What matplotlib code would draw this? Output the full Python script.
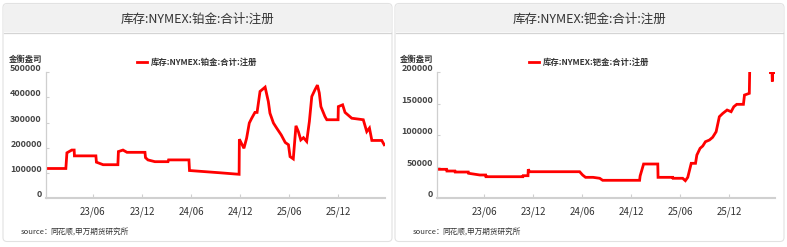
import matplotlib
matplotlib.use('Agg')
import matplotlib.pyplot as plt
import matplotlib.dates as mdates
import pandas as pd
from matplotlib.patches import FancyBboxPatch, Rectangle
from matplotlib.transforms import Affine2D, ScaledTranslation
from matplotlib.lines import Line2D

plt.rcParams['font.family'] = ['Noto Sans CJK SC', 'DejaVu Sans']

# ---- data ----
pt_title = '库存:NYMEX:铂金:合计:注册'
pt_dates = ['2022-12-08', '2023-02-20', '2023-02-24', '2023-03-14', '2023-03-23', '2023-03-24',
            '2023-06-12', '2023-06-14', '2023-07-09', '2023-09-02', '2023-09-04', '2023-09-21',
            '2023-10-06', '2023-12-12', '2023-12-14', '2023-12-23', '2024-01-18', '2024-03-07',
            '2024-03-09', '2024-05-24', '2024-05-26', '2024-09-17', '2024-11-27', '2024-11-28',
            '2024-12-15', '2024-12-25', '2025-01-04', '2025-01-13', '2025-01-25', '2025-02-02',
            '2025-02-13', '2025-03-04', '2025-03-16', '2025-03-22', '2025-04-04', '2025-04-16',
            '2025-05-03', '2025-05-18', '2025-05-30', '2025-06-05', '2025-06-17', '2025-06-27',
            '2025-07-06', '2025-07-15', '2025-07-25', '2025-08-06', '2025-08-16', '2025-08-25',
            '2025-09-06', '2025-09-15', '2025-09-22', '2025-09-28', '2025-10-13', '2025-10-20',
            '2025-12-01', '2025-12-02', '2025-12-18', '2025-12-27', '2026-01-21', '2026-03-05',
            '2026-03-18', '2026-03-28', '2026-04-06', '2026-05-13', '2026-05-22']
pt_values = [118000, 118000, 180000, 191000, 191000, 168000,
             168000, 143000, 133000, 133000, 185000, 191000,
             182000, 182000, 161000, 152000, 145000, 145000,
             152000, 152000, 110000, 101000, 95000, 234000,
             198000, 238000, 298000, 317000, 340000, 340000,
             423000, 440000, 383000, 337000, 298000, 278000,
             251000, 221000, 212000, 165000, 156000, 287000,
             264000, 231000, 240000, 225000, 304000, 403000,
             430000, 448000, 417000, 363000, 324000, 311000,
             311000, 363000, 370000, 340000, 317000, 311000,
             264000, 278000, 229000, 229000, 212000]
pt_yticks = [0, 100000, 200000, 300000, 400000, 500000]

pd_title = '库存:NYMEX:钯金:合计:注册'
pd_dates = ['2022-12-06', '2023-01-11', '2023-01-12', '2023-02-11', '2023-02-12', '2023-04-02',
            '2023-04-03', '2023-05-15', '2023-06-06', '2023-06-07', '2023-10-23', '2023-10-24',
            '2023-11-11', '2023-11-12', '2023-11-17', '2024-05-22', '2024-06-02', '2024-06-13',
            '2024-07-11', '2024-08-05', '2024-08-16', '2025-01-01', '2025-01-03', '2025-01-16',
            '2025-03-10', '2025-03-11', '2025-05-05', '2025-05-06', '2025-06-11', '2025-06-21',
            '2025-06-30', '2025-07-13', '2025-07-29', '2025-08-03', '2025-08-15', '2025-08-25',
            '2025-09-04', '2025-09-19', '2025-10-01', '2025-10-14', '2025-10-26', '2025-11-08',
            '2025-11-24', '2025-12-09', '2025-12-19', '2025-12-30', '2026-01-24', '2026-01-28',
            '2026-02-15', '2026-02-18', '2026-05-04', '2026-05-05', '2026-05-11', '2026-05-12',
            '2026-05-13', '2026-05-20']
pd_values = [45900, 45900, 43200, 43200, 41600, 41600,
             39600, 36900, 36900, 34200, 34200, 35800,
             35800, 45900, 42100, 42100, 36900, 33200,
             33200, 31700, 28500, 28500, 35300, 54300,
             54300, 33200, 33200, 31700, 31700, 27900,
             33200, 55400, 55400, 68500, 79100, 82800,
             89600, 92300, 96600, 105400, 129200, 134500,
             139800, 137100, 145000, 148800, 148800, 163500,
             166200, 240000, 240000, 199000, 199000, 185000,
             199000, 199000]
pd_yticks = [0, 50000, 100000, 150000, 200000]

unit = '金衡盎司'
source_head = 'source：'
source_body = '同花顺,申万期货研究所'

# ---- layout (pixels) ----
W, H = 787, 247
fig = plt.figure(figsize=(W / 100, H / 100), dpi=100)
px = Affine2D().scale(1, -1).translate(0, H).scale(1 / W, 1 / H) + fig.transFigure


def panel(x0, x1, ax_l, ax_r, title, dates, values, yticks, xlim):
    # card with title bar (kept under the axes)
    fig.patches.append(FancyBboxPatch((x0, 3.5), x1 - x0, 238, boxstyle='round,pad=0,rounding_size=4',
                                      transform=px, fc='white', ec='#e2e2e2', lw=0.8, zorder=-3))
    fig.patches.append(FancyBboxPatch((x0 + 0.6, 4.1), x1 - x0 - 1.2, 28, boxstyle='round,pad=0,rounding_size=3.5',
                                      transform=px, fc='#f1f1f1', ec='none', zorder=-2))
    fig.patches.append(Rectangle((x0 + 0.6, 20), x1 - x0 - 1.2, 12.5, transform=px, fc='#f1f1f1', ec='none',
                                 zorder=-2))
    fig.lines.append(Line2D([x0 + 0.6, x1 - 0.6], [32.6, 32.6], transform=px, color='#d4d4d4', lw=0.9,
                            zorder=-1))
    fig.text((x0 + x1) / 2, 19.5, title, transform=px, ha='center', va='center', fontsize=9, color='#333333')

    ax = fig.add_axes([ax_l / W, 1 - 198.3 / H, (ax_r - ax_l) / W, (198.3 - 72) / H])
    ax.patch.set_alpha(0)
    ax.plot(pd.to_datetime(dates), values, color='#ff0000', lw=2, solid_joinstyle='miter', label=title)
    ax.set_ylim(0, yticks[-1])
    ax.set_xlim(pd.to_datetime(xlim[0]), pd.to_datetime(xlim[1]))
    ax.set_yticks(yticks)
    ax.set_yticklabels([str(v) for v in yticks], fontsize=6.5, fontweight='bold', color='#444444')
    ax.xaxis.set_major_locator(mdates.MonthLocator(bymonth=[6, 12]))
    ax.xaxis.set_major_formatter(mdates.DateFormatter('%y/%m'))
    for s in ['top', 'right']:
        ax.spines[s].set_visible(False)
    ax.spines['left'].set_color('#cfcfcf')
    ax.spines['left'].set_linewidth(0.9)
    ax.spines['bottom'].set_color('#d0d0d0')
    ax.spines['bottom'].set_linewidth(1.5)
    ax.tick_params(axis='y', direction='in', length=2.5, color='#cfcfcf', pad=3)
    ax.tick_params(axis='x', direction='in', length=3, color='#cfcfcf', pad=6,
                   labelsize=7, labelcolor='#333333')
    off = ScaledTranslation(0, 0.045, fig.dpi_scale_trans)
    for lab in ax.get_yticklabels():
        lab.set_transform(lab.get_transform() + off)

    fig.legend(handles=ax.get_lines(), loc='center', bbox_to_anchor=((x0 + x1) / 2 / W, 1 - 62 / H),
               frameon=False, prop={'size': 6, 'weight': 'bold'}, labelcolor='#333333',
               handlelength=1.2, handletextpad=0.5, borderpad=0)
    fig.text(ax_l - 4, 59.5, unit, transform=px, ha='right', va='center', fontsize=6, fontweight='bold',
             color='#333333')
    fig.text(x0 + 18, 232, source_head, transform=px, ha='left', va='center', fontsize=5.5,
             color='#333333')
    fig.text(x0 + 47, 232, source_body, transform=px, ha='left', va='center', fontsize=5.5,
             style='italic', color='#333333')
    return ax


panel(3, 392, 46, 385, pt_title, pt_dates, pt_values, pt_yticks, ('2022-12-08', '2026-05-25'))
panel(395, 784, 437, 775, pd_title, pd_dates, pd_values, pd_yticks, ('2022-12-06', '2026-05-22'))

fig.savefig('out.png', dpi=100)
